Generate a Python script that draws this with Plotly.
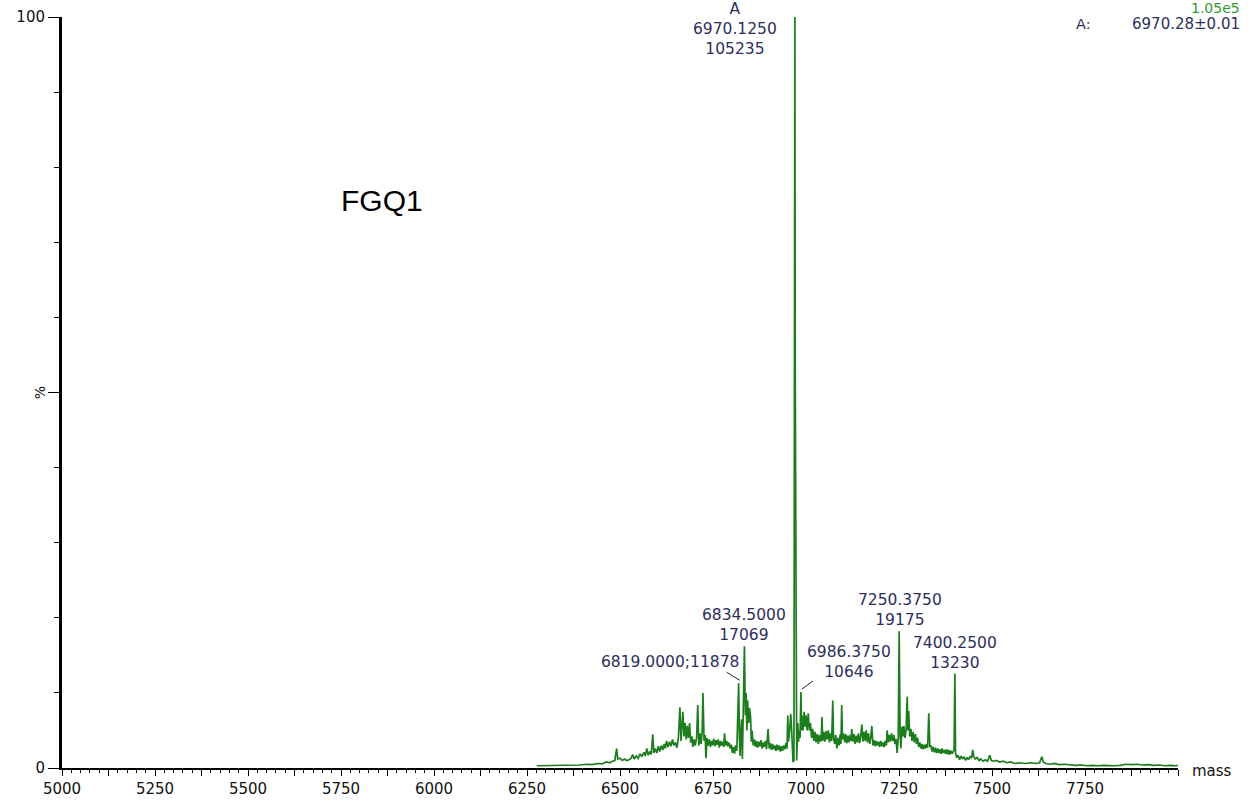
import plotly.graph_objects as go

# Deconvoluted mass spectrum (MaxEnt-style profile), intensity in % of base peak
mass_da = [
    6276, 6300, 6330, 6360, 6392, 6410, 6425, 6440, 6452, 6464,
    6472, 6480, 6486, 6491, 6494, 6500, 6506, 6512, 6518, 6524,
    6530, 6534, 6538, 6544, 6549, 6554, 6559, 6564, 6568, 6572,
    6576, 6580, 6584, 6588, 6591, 6595, 6599, 6603, 6607, 6611,
    6615, 6619, 6622, 6625, 6629, 6633, 6637, 6641, 6645, 6649,
    6653, 6657, 6661, 6664, 6667, 6669, 6672, 6675, 6678, 6681,
    6684, 6687, 6690, 6693, 6696, 6699, 6702, 6706, 6709, 6712,
    6715, 6718, 6721, 6723, 6726, 6729, 6731, 6734, 6737, 6740,
    6743, 6746, 6749, 6752, 6755, 6758, 6761, 6764, 6767, 6770,
    6773, 6776, 6779, 6781, 6784, 6787, 6790, 6793, 6796, 6799,
    6802, 6805, 6808, 6811, 6814, 6816, 6819, 6821, 6823, 6825,
    6827, 6829, 6831, 6834.5, 6837, 6839, 6841, 6843, 6846, 6848,
    6851, 6853, 6855, 6858, 6861, 6864, 6867, 6870, 6873, 6876,
    6879, 6882, 6885, 6888, 6891, 6894, 6898, 6901, 6904, 6907,
    6910, 6913, 6916, 6919, 6922, 6925, 6928, 6931, 6934, 6937,
    6940, 6943, 6946, 6949, 6951, 6953, 6956, 6959, 6962, 6965,
    6967.6, 6968.5, 6969.1, 6970.125, 6971.0, 6973.2, 6975, 6978, 6980, 6982,
    6984, 6986.375, 6988, 6990, 6992, 6995, 6997, 7000, 7003, 7006,
    7009, 7012, 7015, 7018, 7021, 7024, 7027, 7030, 7033, 7036,
    7039, 7041, 7043, 7045, 7048, 7051, 7054, 7057, 7060, 7063,
    7066, 7069, 7072, 7074, 7077, 7080, 7083, 7086, 7089, 7092,
    7094, 7096, 7098, 7101, 7104, 7107, 7110, 7113, 7116, 7119,
    7121, 7123, 7126, 7129, 7132, 7135, 7138, 7141, 7144, 7147,
    7150, 7153, 7156, 7159, 7162, 7165, 7168, 7171, 7174, 7177,
    7180, 7183, 7186, 7189, 7192, 7195, 7198, 7201, 7204, 7207,
    7210, 7213, 7216, 7218, 7221, 7224, 7227, 7230, 7233, 7236,
    7239, 7242, 7245, 7248, 7250.375, 7253, 7255, 7258, 7261, 7263,
    7266, 7269, 7272, 7274, 7276, 7279, 7282, 7285, 7288, 7291,
    7294, 7297, 7300, 7303, 7306, 7309, 7312, 7315, 7318, 7321,
    7324, 7327, 7330, 7333, 7336, 7339, 7342, 7345, 7348, 7351,
    7354, 7357, 7360, 7363, 7366, 7369, 7372, 7375, 7378, 7381,
    7384, 7387, 7390, 7393, 7396, 7398, 7400.25, 7402, 7405, 7409,
    7413, 7417, 7421, 7425, 7429, 7433, 7437, 7441, 7445, 7448,
    7451, 7455, 7460, 7465, 7470, 7476, 7482, 7488, 7494, 7498,
    7505, 7512, 7520, 7530, 7540, 7550, 7562, 7575, 7590, 7605,
    7618, 7628, 7634, 7638, 7645, 7655, 7668, 7680, 7695, 7710,
    7725, 7740, 7755, 7770, 7785, 7800, 7815, 7830, 7845, 7860,
    7875, 7890, 7905, 7920, 7935, 7950, 7965, 7980, 7995, 8005,
]
rel_pct = [
    0.3, 0.3, 0.35, 0.35, 0.4, 0.5, 0.45, 0.6, 0.55, 0.8,
    0.7, 0.9, 1.0, 2.6, 1.2, 1.3, 1.0, 1.2, 1.0, 1.1,
    1.3, 1.8, 1.2, 1.6, 1.3, 1.9, 1.5, 2.1, 1.6, 2.6,
    1.7, 2.2, 1.8, 4.5, 2.0, 2.6, 2.0, 2.9, 2.2, 3.0,
    2.4, 3.2, 2.6, 3.6, 2.8, 3.5, 2.9, 3.8, 3.0, 3.4,
    2.7, 4.0, 8.1, 3.6, 5.5, 7.5, 4.2, 6.0, 3.8, 5.6,
    4.0, 6.0, 3.4, 4.2, 2.8, 3.8, 3.0, 4.0, 8.4, 3.0,
    4.6, 3.2, 5.0, 10.0, 3.6, 4.4, 1.3, 4.0, 3.0, 3.8,
    2.8, 3.6, 3.0, 3.9, 2.9, 3.7, 3.1, 3.8, 2.7, 3.6,
    3.0, 3.5, 2.8, 4.6, 3.0, 3.6, 2.9, 3.4, 2.6, 3.1,
    2.0, 2.8, 1.9, 3.0, 2.3, 6.0, 11.29, 4.0, 1.6, 5.0,
    6.5, 1.2, 8.0, 16.22, 7.0, 10.0, 5.0, 9.0, 6.0, 8.0,
    6.8, 3.5, 5.0, 3.0, 3.8, 2.8, 3.6, 2.7, 3.5, 2.9,
    3.7, 2.6, 3.4, 2.8, 3.6, 2.5, 5.2, 2.6, 3.3, 2.4,
    3.2, 2.5, 3.0, 2.3, 3.1, 2.4, 3.0, 2.2, 2.9, 2.3,
    3.0, 2.5, 3.3, 2.6, 7.0, 3.5, 5.0, 7.2, 4.5, 0.8,
    1.0, 68.6, 53.5, 100.0, 53.5, 1.5, 1.0, 6.0, 3.5, 5.0,
    4.0, 10.12, 5.0, 7.0, 5.0, 7.5, 5.5, 7.0, 5.0, 7.3,
    5.0, 6.0, 4.0, 5.2, 3.6, 4.8, 3.4, 4.5, 3.2, 4.4,
    3.5, 4.0, 6.8, 3.6, 4.8, 3.5, 4.9, 3.8, 5.0, 3.4,
    4.6, 3.6, 9.0, 4.0, 3.2, 4.4, 2.6, 4.0, 3.0, 4.5,
    3.2, 8.4, 3.8, 4.6, 3.4, 4.5, 3.3, 4.3, 3.4, 4.4,
    3.6, 5.2, 3.5, 4.5, 3.2, 4.3, 3.4, 4.6, 3.3, 4.2,
    5.8, 3.5, 4.8, 3.6, 5.0, 3.4, 4.6, 3.2, 4.0, 5.6,
    3.0, 3.7, 2.9, 3.6, 3.0, 3.5, 2.8, 3.6, 2.9, 3.4,
    2.8, 3.6, 3.0, 5.0, 3.4, 4.4, 3.5, 4.6, 3.6, 4.4,
    3.2, 3.9, 2.0, 4.0, 18.22, 4.5, 2.6, 5.5, 4.2, 5.6,
    4.0, 5.0, 9.5, 5.0, 7.6, 4.2, 5.2, 3.6, 4.8, 3.4,
    4.5, 3.2, 4.0, 2.8, 3.4, 2.6, 3.2, 2.5, 3.1, 2.6,
    3.2, 2.7, 7.3, 2.8, 3.0, 2.2, 2.8, 2.1, 2.7, 2.0,
    2.6, 2.0, 2.5, 1.9, 2.6, 2.0, 2.4, 1.9, 2.5, 1.8,
    2.4, 1.8, 2.3, 1.9, 2.2, 2.4, 12.57, 2.0, 1.4, 1.7,
    1.1, 1.6, 1.2, 1.5, 1.0, 1.4, 1.1, 1.5, 1.3, 2.4,
    1.5, 1.2, 1.4, 1.0, 1.2, 0.9, 1.1, 0.9, 1.7, 1.0,
    0.9, 1.0, 0.8, 0.9, 0.7, 0.8, 0.6, 0.7, 0.6, 0.7,
    0.6, 0.7, 1.5, 0.8, 0.6, 0.5, 0.6, 0.45, 0.5, 0.4,
    0.35, 0.4, 0.3, 0.35, 0.3, 0.35, 0.3, 0.3, 0.35, 0.5,
    0.45, 0.5, 0.4, 0.45, 0.35, 0.4, 0.3, 0.35, 0.3, 0.4,
]

# Labelled peaks: mass (Da) and absolute intensity (counts)
base_counts = 105235
peak_mass = [6970.125, 6834.5, 6819.0, 6986.375, 7250.375, 7400.25]
peak_counts = [105235, 17069, 11878, 10646, 19175, 13230]
peak_mass_text = ["6970.1250", "6834.5000", "6819.0000", "6986.3750", "7250.3750", "7400.2500"]

x_tick_vals = list(range(5000, 8001, 125))
x_tick_text = [str(v) if v % 250 == 0 and v < 8000 else "" for v in x_tick_vals]

sample_name = "FGQ1"
max_counts_text = "1.05e5"
component_text = "6970.28\u00b10.01"

LINE_GREEN = "#1c7d1c"
LABEL_NAVY = "#2e2e5c"
FONT = "DejaVu Sans, Verdana, sans-serif"
LABEL_SIZE = 15.5

fig = go.Figure()
fig.add_trace(go.Scatter(
    x=mass_da, y=rel_pct, mode="lines",
    line=dict(color=LINE_GREEN, width=1.7),
    hoverinfo="x+y", showlegend=False,
))

peak_pct = [c / base_counts * 100 for c in peak_counts]


def label_font():
    return dict(family=FONT, size=LABEL_SIZE, color=LABEL_NAVY)


ann = []
# base peak (component A)
ann.append(dict(x=peak_mass[0], y=peak_pct[0], xref="x", yref="y",
                text="A<br>" + peak_mass_text[0] + "<br>" + str(peak_counts[0]),
                showarrow=False, xanchor="center", yanchor="top",
                xshift=-60, yshift=19, font=label_font()))
# 6834.5 peak
ann.append(dict(x=peak_mass[1], y=peak_pct[1], xref="x", yref="y",
                text=peak_mass_text[1] + "<br>" + str(peak_counts[1]),
                showarrow=False, xanchor="center", yanchor="bottom",
                xshift=0, yshift=0, font=label_font()))
# 6819 peak (single line with leader)
ann.append(dict(x=peak_mass[2], y=peak_pct[2], xref="x", yref="y",
                text=peak_mass_text[2] + ";" + str(peak_counts[2]),
                showarrow=False, xanchor="right", yanchor="middle",
                xshift=2, yshift=21, font=label_font()))
# 6986.375 peak (with leader)
ann.append(dict(x=peak_mass[3], y=peak_pct[3], xref="x", yref="y",
                text=peak_mass_text[3] + "<br>" + str(peak_counts[3]),
                showarrow=False, xanchor="center", yanchor="middle",
                xshift=48, yshift=30, font=label_font()))
# 7250.375 peak
ann.append(dict(x=peak_mass[4], y=peak_pct[4], xref="x", yref="y",
                text=peak_mass_text[4] + "<br>" + str(peak_counts[4]),
                showarrow=False, xanchor="center", yanchor="bottom",
                xshift=1, yshift=0, font=label_font()))
# 7400.25 peak
ann.append(dict(x=peak_mass[5], y=peak_pct[5], xref="x", yref="y",
                text=peak_mass_text[5] + "<br>" + str(peak_counts[5]),
                showarrow=False, xanchor="center", yanchor="bottom",
                xshift=0, yshift=0, font=label_font()))

# sample name
ann.append(dict(x=0.2866, y=0.7563, xref="paper", yref="paper", text=sample_name,
                showarrow=False, xanchor="center", yanchor="middle",
                font=dict(family="Liberation Sans, Arial, sans-serif", size=30, color="#000")))
# y axis title
ann.append(dict(x=-0.02, y=0.5, xref="paper", yref="paper", text="%",
                showarrow=False, textangle=-90, xanchor="center", yanchor="middle",
                font=dict(family=FONT, size=14, color="#111")))
# x axis title
ann.append(dict(x=1.0107, y=-0.004, xref="paper", yref="paper", text="mass",
                showarrow=False, xanchor="left", yanchor="middle",
                font=dict(family=FONT, size=15, color="#111")))
# header at top right
ann.append(dict(x=1.057, y=1.0253, xref="paper", yref="paper", text=max_counts_text,
                showarrow=False, xanchor="right", yanchor="top",
                font=dict(family=FONT, size=14, color="#2f9a2f")))
ann.append(dict(x=0.915, y=0.9907, xref="paper", yref="paper", text="A:",
                showarrow=False, xanchor="center", yanchor="middle",
                font=dict(family=FONT, size=14.5, color=LABEL_NAVY)))
ann.append(dict(x=1.057, y=0.9907, xref="paper", yref="paper", text=component_text,
                showarrow=False, xanchor="right", yanchor="middle",
                font=dict(family=FONT, size=15, color=LABEL_NAVY)))

shapes = []
# small bar marking the base peak label
shapes.append(dict(type="line", xref="x", yref="y", xsizemode="pixel", ysizemode="pixel",
                   xanchor=peak_mass[0], yanchor=peak_pct[0], x0=-12, x1=0, y0=3, y1=3,
                   line=dict(color="#222", width=1.5)))
# leader lines
shapes.append(dict(type="line", xref="x", yref="y", xsizemode="pixel", ysizemode="pixel",
                   xanchor=peak_mass[2], yanchor=peak_pct[2], x0=-12, x1=1, y0=11, y1=3,
                   line=dict(color="#222", width=1)))
shapes.append(dict(type="line", xref="x", yref="y", xsizemode="pixel", ysizemode="pixel",
                   xanchor=peak_mass[3], yanchor=peak_pct[3], x0=1, x1=12, y0=3, y1=11,
                   line=dict(color="#222", width=1)))

fig.update_layout(
    width=1248, height=801,
    margin=dict(l=62, r=70, t=17, b=33),
    paper_bgcolor="white", plot_bgcolor="white",
    annotations=ann, shapes=shapes,
    xaxis=dict(
        range=[5000, 8000], showgrid=False, zeroline=False, automargin=False,
        showline=True, linecolor="#000", linewidth=2,
        tickmode="array", tickvals=x_tick_vals, ticktext=x_tick_text,
        ticks="outside", ticklen=6, tickwidth=1, tickcolor="#000",
        minor=dict(dtick=25, ticks="outside", ticklen=3, tickcolor="#000", tickwidth=1, showgrid=False),
        tickfont=dict(family=FONT, size=15, color="#111"),
    ),
    yaxis=dict(
        range=[0, 100], showgrid=False, zeroline=False, automargin=False,
        showline=True, linecolor="#000", linewidth=3,
        tickmode="array", tickvals=[0, 50, 100], ticktext=["0", "", "100"],
        ticks="outside", ticklen=11, tickwidth=1, tickcolor="#000",
        minor=dict(dtick=10, ticks="outside", ticklen=5, tickcolor="#000", tickwidth=1, showgrid=False),
        tickfont=dict(family=FONT, size=15, color="#111"),
    ),
)

fig.write_html("out.html")
